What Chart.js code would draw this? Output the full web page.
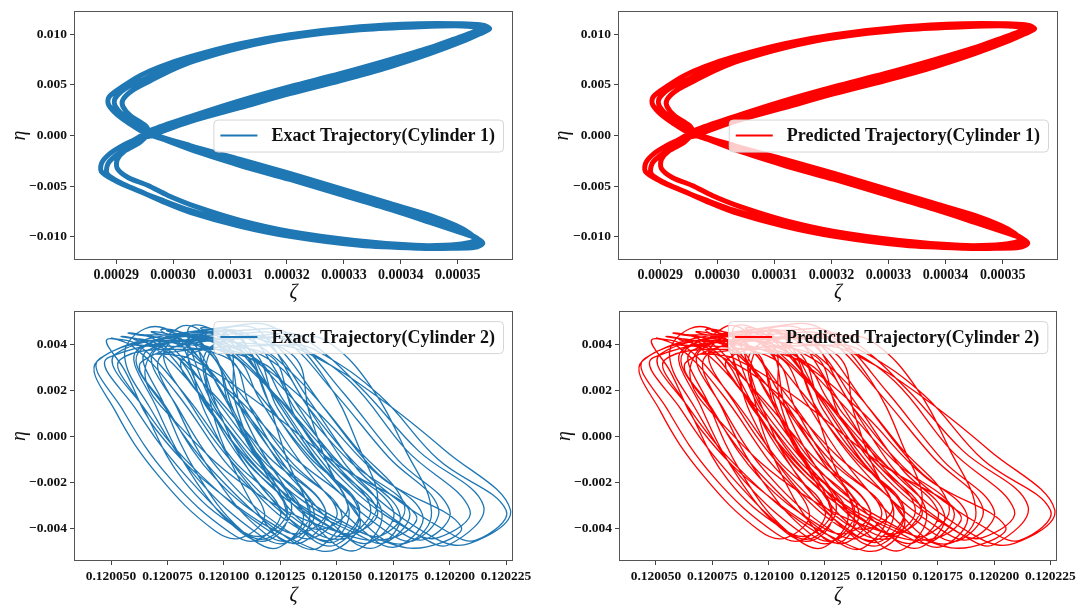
<!DOCTYPE html>
<html>
<head>
<meta charset="utf-8">
<script src="https://cdn.jsdelivr.net/npm/chart.js@4.4.0/dist/chart.umd.min.js"></script>
<style>
  body { margin: 0; background: #fff; width: 1079px; height: 608px; overflow: hidden; position: relative; }
  canvas { position: absolute; }
</style>
</head>
<body>
<canvas id="c1" width="540" height="305" style="left:0;top:0"></canvas>
<canvas id="c2" width="539" height="305" style="left:540px;top:0"></canvas>
<canvas id="c3" width="540" height="308" style="left:0;top:300px"></canvas>
<canvas id="c4" width="539" height="308" style="left:540px;top:300px"></canvas>
<script>
// Cylinder 1: figure-eight trajectory, three traced passes of the band (outer, inner, middle)
const exactZeta1 = [
  0.0002953, 0.0003030, 0.0003118, 0.0003205, 0.0003293, 0.0003381, 0.0003451, 0.0003504, 0.0003535, 0.0003551,
  0.0003539, 0.0003504, 0.0003433, 0.0003328, 0.0003205, 0.0003118, 0.0003030, 0.0002977, 0.0002942, 0.0002911,
  0.0002888, 0.0002886, 0.0002898, 0.0002921, 0.0002953, 0.0003030, 0.0003118, 0.0003205, 0.0003293, 0.0003381,
  0.0003451, 0.0003500, 0.0003528, 0.0003539, 0.0003525, 0.0003486, 0.0003433, 0.0003328, 0.0003205, 0.0003118,
  0.0003030, 0.0002977, 0.0002933, 0.0002898, 0.0002874, 0.0002875, 0.0002889, 0.0002911, 0.0002933,
  0.0002960, 0.0003030, 0.0003118, 0.0003205, 0.0003293, 0.0003381, 0.0003451, 0.0003500, 0.0003528, 0.0003540,
  0.0003528, 0.0003495, 0.0003433, 0.0003328, 0.0003205, 0.0003118, 0.0003039, 0.0002995, 0.0002960, 0.0002928,
  0.0002912, 0.0002912, 0.0002925, 0.0002951, 0.0002963, 0.0003030, 0.0003118, 0.0003205, 0.0003293, 0.0003381,
  0.0003451, 0.0003496, 0.0003521, 0.0003530, 0.0003514, 0.0003477, 0.0003425, 0.0003319, 0.0003205, 0.0003118,
  0.0003039, 0.0002991, 0.0002956, 0.0002921, 0.0002902, 0.0002902, 0.0002914, 0.0002939, 0.0002953,
  0.0002956, 0.0003030, 0.0003118, 0.0003205, 0.0003293, 0.0003381, 0.0003451, 0.0003507, 0.0003539, 0.0003556,
  0.0003544, 0.0003507, 0.0003433, 0.0003328, 0.0003205, 0.0003118, 0.0003033, 0.0002986, 0.0002951, 0.0002916,
  0.0002898, 0.0002898, 0.0002911, 0.0002935, 0.0002953, 0.0003030, 0.0003118, 0.0003205, 0.0003293, 0.0003381,
  0.0003451, 0.0003504, 0.0003533, 0.0003544, 0.0003530, 0.0003490, 0.0003433, 0.0003328, 0.0003205, 0.0003118,
  0.0003030, 0.0002981, 0.0002942, 0.0002907, 0.0002884, 0.0002886, 0.0002900, 0.0002921, 0.0002939,
  0.0002953
];
const exactEta1 = [
  0.0001, 0.00158, 0.00306, 0.00444, 0.00572, 0.0071, 0.00828, 0.00937, 0.01016, 0.01065,
  0.01095, 0.01105, 0.01105, 0.01075, 0.00996, 0.00907, 0.00779, 0.0068, 0.00592, 0.00483,
  0.00385, 0.00316, 0.00227, 0.00128, 0.0002, -0.00118, -0.00266, -0.00404, -0.00552, -0.007,
  -0.00828, -0.00927, -0.00996, -0.01045, -0.01085, -0.01105, -0.01105, -0.01065, -0.00976, -0.00878,
  -0.0074, -0.00631, -0.00533, -0.00444, -0.00355, -0.00266, -0.00178, -0.00099, -0.00039,
  0.00049, 0.00187, 0.00345, 0.00483, 0.00611, 0.0075, 0.00868, 0.00966, 0.01026, 0.01065,
  0.01075, 0.01085, 0.01075, 0.01045, 0.00966, 0.00868, 0.0074, 0.00641, 0.00542, 0.00444,
  0.00355, 0.00286, 0.00197, 0.00099, 0.0002, -0.00099, -0.00237, -0.00375, -0.00523, -0.00671,
  -0.00789, -0.00888, -0.00966, -0.01026, -0.01065, -0.01085, -0.01085, -0.01036, -0.00947, -0.00838,
  -0.007, -0.00592, -0.00493, -0.00414, -0.00325, -0.00237, -0.00158, -0.00079, -0.0001,
  -0.0001, 0.00138, 0.00276, 0.00414, 0.00542, 0.0068, 0.00809, 0.00927, 0.01006, 0.01055,
  0.0109, 0.011, 0.011, 0.01065, 0.00981, 0.00888, 0.00759, 0.00661, 0.00562, 0.00464,
  0.00365, 0.00296, 0.00207, 0.00108, 0.00039, -0.00138, -0.00296, -0.00434, -0.00582, -0.0073,
  -0.00858, -0.00957, -0.01016, -0.01065, -0.01105, -0.01114, -0.01114, -0.01085, -0.00996, -0.00897,
  -0.00759, -0.00651, -0.00552, -0.00464, -0.00375, -0.00276, -0.00197, -0.00118, -0.00049,
  0.0001
];
// predicted trajectory is indistinguishable from the exact one at this size
const predZeta1 = exactZeta1;
const predEta1 = exactEta1;

// Cylinder 2: one row per loop (top, right side, bottom, left side)
const exactZeta2 = [
  0.120050, 0.120062, 0.120083, 0.120104, 0.120125, 0.120115, 0.120103, 0.120076, 0.120055, 0.120045,
  0.120110, 0.120125, 0.120145, 0.120160, 0.120168, 0.120155, 0.120138, 0.120118, 0.120105, 0.120102,
  0.120085, 0.120097, 0.120123, 0.120149, 0.120175, 0.120165, 0.120153, 0.120119, 0.120093, 0.120079,
  0.120060, 0.120072, 0.120090, 0.120110, 0.120128, 0.120118, 0.120106, 0.120082, 0.120064, 0.120054,
  0.120095, 0.120110, 0.120140, 0.120170, 0.120205, 0.120190, 0.120172, 0.120135, 0.120105, 0.120092,
  0.120100, 0.120112, 0.120135, 0.120158, 0.120180, 0.120170, 0.120158, 0.120129, 0.120106, 0.120094,
  0.120068, 0.120080, 0.120104, 0.120128, 0.120152, 0.120142, 0.120130, 0.120099, 0.120075, 0.120062,
  0.120100, 0.120108, 0.120118, 0.120128, 0.120138, 0.120132, 0.120122, 0.120105, 0.120094, 0.120093,
  0.120120, 0.120132, 0.120156, 0.120181, 0.120209, 0.120195, 0.120183, 0.120151, 0.120127, 0.120114,
  0.120075, 0.120087, 0.120108, 0.120129, 0.120150, 0.120140, 0.120128, 0.120101, 0.120080, 0.120069,
  0.120108, 0.120120, 0.120139, 0.120159, 0.120178, 0.120168, 0.120156, 0.120131, 0.120112, 0.120102,
  0.120060, 0.120072, 0.120100, 0.120130, 0.120160, 0.120150, 0.120135, 0.120100, 0.120070, 0.120056,
  0.120048, 0.120060, 0.120079, 0.120099, 0.120118, 0.120108, 0.120096, 0.120071, 0.120052, 0.120044,
  0.120092, 0.120104, 0.120130, 0.120156, 0.120182, 0.120172, 0.120160, 0.120126, 0.120100, 0.120086,
  0.120085, 0.120098, 0.120115, 0.120135, 0.120155, 0.120150, 0.120138, 0.120112, 0.120092, 0.120082,
  0.120072, 0.120084, 0.120099, 0.120115, 0.120130, 0.120120, 0.120108, 0.120088, 0.120074, 0.120066,
  0.120122, 0.120140, 0.120170, 0.120198, 0.120227, 0.120209, 0.120193, 0.120160, 0.120133, 0.120117,
  0.120055, 0.120067, 0.120090, 0.120113, 0.120135, 0.120125, 0.120113, 0.120084, 0.120061, 0.120049,
  0.120135, 0.120148, 0.120165, 0.120180, 0.120192, 0.120182, 0.120168, 0.120150, 0.120138, 0.120131,
  0.120100, 0.120112, 0.120129, 0.120148, 0.120165, 0.120155, 0.120143, 0.120120, 0.120103, 0.120094,
  0.120070, 0.120082, 0.120103, 0.120124, 0.120145, 0.120135, 0.120123, 0.120096, 0.120075, 0.120064,
  0.120125, 0.120137, 0.120161, 0.120186, 0.120215, 0.120200, 0.120188, 0.120156, 0.120132, 0.120119,
  0.120070, 0.120085, 0.120115, 0.120150, 0.120185, 0.120175, 0.120155, 0.120115, 0.120080, 0.120065,
  0.120080, 0.120092, 0.120115, 0.120138, 0.120160, 0.120150, 0.120138, 0.120109, 0.120086, 0.120074,
  0.120105, 0.120117, 0.120134, 0.120153, 0.120170, 0.120160, 0.120148, 0.120125, 0.120108, 0.120099,
  0.120062, 0.120074, 0.120095, 0.120117, 0.120138, 0.120128, 0.120116, 0.120088, 0.120067, 0.120056,
  0.120065, 0.120078, 0.120095, 0.120112, 0.120128, 0.120120, 0.120108, 0.120088, 0.120070, 0.120062,
  0.120118, 0.120130, 0.120153, 0.120177, 0.120200, 0.120190, 0.120178, 0.120148, 0.120124, 0.120112,
  0.120078, 0.120090, 0.120106, 0.120124, 0.120140, 0.120130, 0.120118, 0.120097, 0.120080, 0.120072,
  0.120110, 0.120122, 0.120144, 0.120166, 0.120188, 0.120178, 0.120166, 0.120137, 0.120116, 0.120104,
  0.120058, 0.120070, 0.120095, 0.120120, 0.120145, 0.120135, 0.120123, 0.120090, 0.120065, 0.120052,
  0.120115, 0.120127, 0.120150, 0.120173, 0.120195, 0.120185, 0.120173, 0.120144, 0.120121, 0.120109,
  0.120088, 0.120100, 0.120123, 0.120146, 0.120168, 0.120158, 0.120146, 0.120117, 0.120094, 0.120082,
  0.120130, 0.120142, 0.120169, 0.120195, 0.120225, 0.120212, 0.120200, 0.120165, 0.120138, 0.120124,
  0.120090, 0.120102, 0.120121, 0.120141, 0.120160, 0.120150, 0.120138, 0.120113, 0.120094, 0.120084,
  0.120095, 0.120107, 0.120122, 0.120140, 0.120155, 0.120145, 0.120133, 0.120112, 0.120097, 0.120089
];
const exactEta2 = [
  0.0043, 0.0040, 0.0018, -0.0010, -0.0032, -0.0045, -0.0042, -0.0018, 0.0012, 0.0034,
  0.0049, 0.0046, 0.0025, -0.0005, -0.0030, -0.0044, -0.0040, -0.0015, 0.0015, 0.0040,
  0.0044, 0.0041, 0.0018, -0.0010, -0.0032, -0.0046, -0.0043, -0.0018, 0.0012, 0.0035,
  0.00425, 0.00395, 0.0017, -0.0011, -0.0031, -0.0043, -0.0040, -0.0019, 0.0013, 0.00335,
  0.0038, 0.0035, 0.0012, -0.0018, -0.0039, -0.0048, -0.0046, -0.0028, 0.0002, 0.0026,
  0.0045, 0.0042, 0.0023, -0.0004, -0.0030, -0.0043, -0.0040, -0.0021, 0.0008, 0.0036,
  0.00455, 0.00425, 0.0017, -0.0011, -0.0033, -0.00485, -0.00455, -0.0019, 0.0011, 0.00365,
  0.0046, 0.0043, 0.0020, -0.0010, -0.0035, -0.0046, -0.0042, -0.0015, 0.0015, 0.0038,
  0.0043, 0.0040, 0.0024, -0.0006, -0.0032, -0.0044, -0.0041, -0.0015, 0.0015, 0.0034,
  0.0046, 0.0043, 0.0018, -0.0010, -0.0032, -0.0044, -0.0041, -0.0018, 0.0012, 0.0037,
  0.0043, 0.0040, 0.0014, -0.0014, -0.0034, -0.0048, -0.0045, -0.0018, 0.0012, 0.0034,
  0.0040, 0.0038, 0.0022, -0.0008, -0.0035, -0.0049, -0.0047, -0.0026, 0.0003, 0.0029,
  0.0042, 0.0039, 0.0019, -0.0009, -0.0033, -0.0044, -0.0041, -0.0017, 0.0011, 0.0033,
  0.0045, 0.0042, 0.0017, -0.0011, -0.0032, -0.0046, -0.0043, -0.0024, 0.0006, 0.0036,
  0.0048, 0.0045, 0.0028, 0.0000, -0.0030, -0.0044, -0.0043, -0.0022, 0.0010, 0.0039,
  0.00465, 0.00435, 0.0019, -0.0009, -0.0030, -0.0044, -0.0041, -0.0016, 0.0013, 0.00375,
  0.0040, 0.0035, 0.0016, -0.0006, -0.0032, -0.00465, -0.0044, -0.0020, 0.0010, 0.0032,
  0.00435, 0.00405, 0.0018, -0.0010, -0.0033, -0.0048, -0.0045, -0.0018, 0.0012, 0.00345,
  0.0044, 0.0040, 0.0022, -0.0005, -0.0033, -0.0046, -0.0043, -0.0020, 0.0010, 0.0035,
  0.00465, 0.00435, 0.0019, -0.0010, -0.0031, -0.0043, -0.0040, -0.0017, 0.0012, 0.00375,
  0.0042, 0.0039, 0.0018, -0.0010, -0.0032, -0.0042, -0.0039, -0.0018, 0.0012, 0.0033,
  0.0045, 0.0042, 0.0021, -0.0006, -0.0030, -0.0047, -0.0044, -0.0022, 0.0008, 0.0036,
  0.0036, 0.0034, 0.0015, -0.0012, -0.0034, -0.0044, -0.0043, -0.0025, 0.0005, 0.0028,
  0.00475, 0.00445, 0.0019, -0.0009, -0.0031, -0.00455, -0.00425, -0.0017, 0.0013, 0.00385,
  0.0048, 0.0045, 0.0018, -0.0011, -0.0033, -0.0049, -0.0046, -0.0019, 0.0011, 0.0039,
  0.00445, 0.00415, 0.0018, -0.0010, -0.0031, -0.0046, -0.0043, -0.0018, 0.0013, 0.00355,
  0.0047, 0.0045, 0.0026, -0.0003, -0.0034, -0.0045, -0.0042, -0.0020, 0.0013, 0.0038,
  0.0047, 0.0044, 0.0019, -0.0010, -0.0032, -0.00445, -0.00415, -0.0018, 0.0012, 0.0038,
  0.0044, 0.0041, 0.0017, -0.0011, -0.0033, -0.0045, -0.0042, -0.0019, 0.0011, 0.0035,
  0.0044, 0.0041, 0.0013, -0.0014, -0.0034, -0.00475, -0.00445, -0.0015, 0.0016, 0.0035,
  0.0045, 0.0042, 0.0019, -0.0009, -0.0032, -0.0046, -0.0043, -0.0017, 0.0012, 0.0036,
  0.00455, 0.00425, 0.0018, -0.0009, -0.0031, -0.0045, -0.0042, -0.0017, 0.0013, 0.00365,
  0.0043, 0.0040, 0.0018, -0.0010, -0.0032, -0.0042, -0.0039, -0.0018, 0.0012, 0.0034,
  0.0040, 0.0037, 0.0018, -0.0010, -0.0032, -0.0045, -0.0042, -0.0018, 0.0012, 0.0031,
  0.0047, 0.0044, 0.0019, -0.0010, -0.0033, -0.0047, -0.0044, -0.0017, 0.0012, 0.0038,
  0.0046, 0.0043, 0.0018, -0.0009, -0.0030, -0.0040, -0.0037, -0.0016, 0.0013, 0.0037
];
const predZeta2 = exactZeta2;
const predEta2 = exactEta2;

// tick labels
const xTicks1 = [0.00029, 0.00030, 0.00031, 0.00032, 0.00033, 0.00034, 0.00035];
const yTicks1 = [-0.010, -0.005, 0.000, 0.005, 0.010];
const xTicks2 = [0.120050, 0.120075, 0.120100, 0.120125, 0.120150, 0.120175, 0.120200, 0.120225];
const yTicks2 = [-0.004, -0.002, 0.000, 0.002, 0.004];

const BLUE = '#1f77b4';
const RED = '#ff0000';
const SERIF = '"Liberation Serif", "Times New Roman", serif';

function toPoints(zs, es) {
  return zs.map((z, i) => ({ x: z, y: es[i] }));
}

// matplotlib-style legend box drawn inside the plot
const legendBox = {
  id: 'legendBox',
  afterDatasetsDraw(chart, args, opts) {
    const { ctx, chartArea: a } = chart;
    const ds = chart.data.datasets[0];
    ctx.save();
    ctx.font = 'bold 18px ' + SERIF;
    const tw = ctx.measureText(ds.label).width;
    const w = tw + 66, h = 32;
    const x = a.right - 10 - w;
    const y = opts.where === 'center' ? (a.top + a.bottom) / 2 - h / 2 : a.top + 10;
    ctx.beginPath();
    ctx.roundRect(x + 0.5, y + 0.5, w, h, 4);
    ctx.fillStyle = 'rgba(255,255,255,0.8)';
    ctx.fill();
    ctx.strokeStyle = '#d6d6d6';
    ctx.lineWidth = 1;
    ctx.stroke();
    ctx.beginPath();
    ctx.moveTo(x + 7, y + h / 2);
    ctx.lineTo(x + 44, y + h / 2);
    ctx.strokeStyle = ds.borderColor;
    ctx.lineWidth = 2;
    ctx.stroke();
    ctx.fillStyle = '#111';
    ctx.textBaseline = 'middle';
    ctx.fillText(ds.label, x + 58, y + h / 2 + 1);
    ctx.restore();
  }
};

// box around the axes
const frame = {
  id: 'frame',
  afterDraw(chart) {
    const { ctx, chartArea: a } = chart;
    ctx.save();
    ctx.strokeStyle = '#555';
    ctx.lineWidth = 1;
    ctx.strokeRect(Math.round(a.left) + 0.5, Math.round(a.top) + 0.5,
      Math.round(a.right - a.left) - 1, Math.round(a.bottom - a.top) - 1);
    ctx.restore();
  }
};

function fmtY(v) {
  return (v < 0 ? '\u2212' : '') + Math.abs(v).toFixed(3);
}

function crearGrafica(id, cfg) {
  const titleFont = { family: SERIF, size: 20, style: 'italic', lineHeight: 1.2 };
  const grid = { drawOnChartArea: false, drawTicks: true, tickLength: 4, color: '#444' };
  new Chart(document.getElementById(id), {
    type: 'scatter',
    data: {
      datasets: [{
        label: cfg.label,
        data: toPoints(cfg.zeta, cfg.eta),
        showLine: true,
        borderColor: cfg.color,
        borderWidth: cfg.lineWidth,
        tension: cfg.tension,
        pointRadius: 0,
        fill: false
      }]
    },
    options: {
      responsive: false,
      animation: false,
      events: [],
      layout: { padding: { left: 0, right: cfg.padRight, top: cfg.padTop, bottom: 0 } },
      plugins: {
        legend: { display: false },
        tooltip: { enabled: false },
        legendBox: { where: cfg.legendWhere }
      },
      scales: {
        x: {
          type: 'linear',
          min: cfg.xMin, max: cfg.xMax,
          afterBuildTicks: s => { s.ticks = cfg.xTicks.map(v => ({ value: v })); },
          afterFit: s => { s.height = cfg.xAxisH; },
          ticks: { font: { family: SERIF, size: cfg.xTickSize, weight: 'bold' }, color: '#111', padding: 3,
            maxRotation: 0, autoSkip: false, callback: v => v.toFixed(cfg.xDigits) },
          grid: grid,
          border: { display: false },
          title: { display: true, text: '\u03b6', font: titleFont, color: '#111', padding: { top: 0, bottom: cfg.xTitlePad } }
        },
        y: {
          type: 'linear',
          min: cfg.yMin, max: cfg.yMax,
          afterBuildTicks: s => { s.ticks = cfg.yTicks.map(v => ({ value: v })); },
          afterFit: s => { s.width = cfg.yAxisW; },
          ticks: { font: { family: SERIF, size: 13.5, weight: 'bold' }, color: '#111', padding: 3,
            autoSkip: false, callback: fmtY },
          grid: grid,
          border: { display: false },
          title: { display: true, text: '\u03b7', font: titleFont, color: '#111', padding: { top: cfg.yTitlePad, bottom: 0 } }
        }
      }
    },
    plugins: [legendBox, frame]
  });
}

const top1 = { xMin: 0.0002826, xMax: 0.0003597, yMin: -0.0123, yMax: 0.0123, xTicks: xTicks1, yTicks: yTicks1,
  xDigits: 5, xTickSize: 14, lineWidth: 5, tension: 0.3, legendWhere: 'center', padTop: 10, xAxisH: 45, xTitlePad: 0.5 };
const bot1 = { xMin: 0.1200336, xMax: 0.1202281, yMin: -0.00542, yMax: 0.00547, xTicks: xTicks2, yTicks: yTicks2,
  xDigits: 6, xTickSize: 13.5, lineWidth: 1.3, tension: 0.4, legendWhere: 'top', xAxisH: 47, xTitlePad: 0 };

crearGrafica('c1', Object.assign({}, top1, { label: 'Exact Trajectory(Cylinder 1)', zeta: exactZeta1, eta: exactEta1,
  color: BLUE, yAxisW: 74, padRight: 27, yTitlePad: 8 }));
crearGrafica('c2', Object.assign({}, top1, { label: 'Predicted Trajectory(Cylinder 1)', zeta: predZeta1, eta: predEta1,
  color: RED, yAxisW: 78, padRight: 21, yTitlePad: 11 }));
crearGrafica('c3', Object.assign({}, bot1, { label: 'Exact Trajectory(Cylinder 2)', zeta: exactZeta2, eta: exactEta2,
  color: BLUE, yAxisW: 74, padRight: 27, padTop: 10, yTitlePad: 8 }));
crearGrafica('c4', Object.assign({}, bot1, { label: 'Predicted Trajectory(Cylinder 2)', zeta: predZeta2, eta: predEta2,
  color: RED, yAxisW: 79, padRight: 21, padTop: 11, yTitlePad: 13 }));
</script>
</body>
</html>
